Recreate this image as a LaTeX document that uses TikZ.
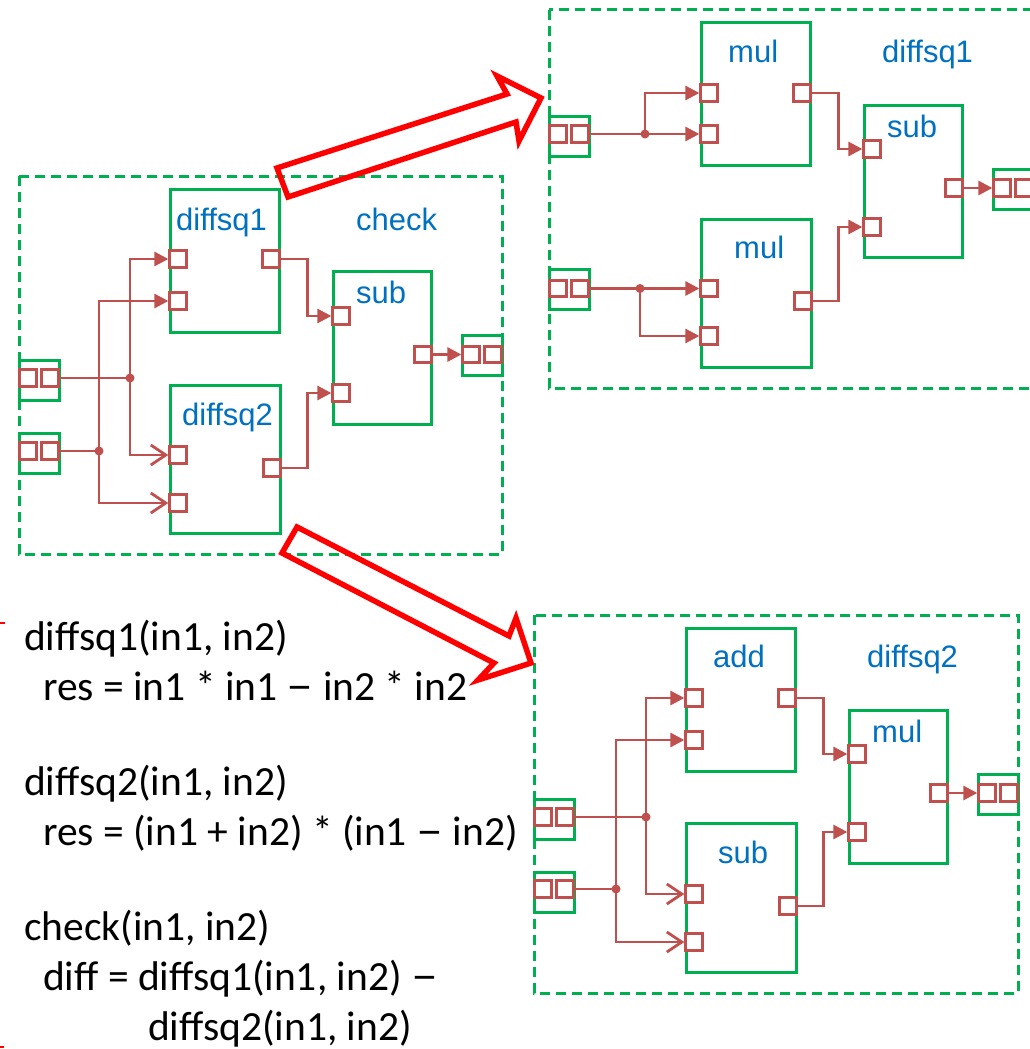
\documentclass[tikz,border=0pt]{standalone}
\usepackage{fontspec}
\setmainfont{Carlito}
\newfontfamily\arialfont{Liberation Sans}
\usetikzlibrary{arrows.meta}
\definecolor{wirered}{HTML}{C0504D}
\definecolor{boxgreen}{HTML}{00B050}
\definecolor{lblblue}{HTML}{0070C0}
\definecolor{bigred}{HTML}{FF0000}
\newcommand\mydash{\scalebox{1.3}[1.1]{–}}
\tikzset{
 blk/.style={draw=boxgreen, line width=3pt, rectangle, inner sep=0},
 port/.style={draw=wirered, line width=2.8pt, fill=white, rectangle, minimum size=16.5pt, inner sep=0},
 term/.style={draw=boxgreen, line width=3pt, rectangle, minimum size=40pt, inner sep=0},
 wire/.style={draw=wirered, line width=2.8pt},
 fa/.style={-{Triangle[length=14pt,width=14pt]}},
 fo/.style={-{Straight Barb[length=15pt,width=20pt]}},
 jdot/.style={circle, fill=wirered, minimum size=9pt, inner sep=0},
 frame/.style={draw=boxgreen, line width=3pt, dash pattern=on 10pt off 6pt},
 lbl/.style={font=\arialfont\fontsize{31}{31}\selectfont, text=lblblue, anchor=base west, inner sep=0},
 code/.style={font=\fontsize{41.5}{41.5}\selectfont, anchor=base west, inner sep=0},
 bigarrow/.style={draw=bigred, line width=5.5pt, line join=miter},
}
\newcommand\myterminal[4]{%
 \node[term] (#1) at (#2,#3) {};
 \node[port] (#1-a) at ({#2-11},#4) {};
 \node[port] (#1-b) at ({#2+11},#4) {};
}
\newcommand\myblock[5]{\node[blk, minimum width=#4pt, minimum height=#5pt] (#1) at (#2,#3) {};}
\newcommand\myport[3]{\node[port] (#1) at (#2,#3) {};}
\begin{document}
\begin{tikzpicture}[x=1pt,y=-1pt]
\useasboundingbox (0,0) rectangle (1030,1049);
\clip (0,0) rectangle (1030,1049);
\fill[white] (0,0) rectangle (1030,1049);

% ================= check =================
\draw[frame] (19,176) rectangle (502,554);
\myblock{c-d1}{224.5}{260.5}{109}{143}
\myblock{c-d2}{225}{459}{110}{148}
\myblock{c-sub}{382}{347.5}{98}{153}
\myport{c-d1-i1}{178}{259}
\myport{c-d1-i2}{178}{301}
\myport{c-d1-o}{271}{259}
\myport{c-d2-i1}{178}{455}
\myport{c-d2-i2}{178}{503}
\myport{c-d2-o}{272}{468}
\myport{c-sub-i1}{341}{316}
\myport{c-sub-i2}{341}{393}
\myport{c-sub-o}{423}{354.5}
\myterminal{c-ti1}{39}{380}{378}
\myterminal{c-ti2}{39}{453}{451}
\myterminal{c-to}{482}{355}{354.5}
\node[jdot] (c-j1) at (130,378) {};
\node[jdot] (c-j2) at (99,451) {};
\draw[wire] (c-ti1-b.east) -- (c-j1.center);
\draw[wire] (c-ti2-b.east) -- (c-j2.center);
\draw[wire,fa] (c-j1.center) |- (c-d1-i1);
\draw[wire,fo] (c-j1.center) |- (c-d2-i1);
\draw[wire,fa] (c-j2.center) |- (c-d1-i2);
\draw[wire,fo] (c-j2.center) |- (c-d2-i2);
\draw[wire,fa] (c-d1-o.east) -- ++(27,0) |- (c-sub-i1);
\draw[wire,fa] (c-d2-o.east) -- ++(26,0) |- (c-sub-i2);
\draw[wire,fa] (c-sub-o.east) -- (c-to-a);
\node[lbl] (c-lbl) at (356,230) {check};
\node[lbl] (c-d1-l) at (176,230) {diffsq1};
\node[lbl] (c-sub-l) at (356,303) {sub};
\node[lbl] (c-d2-l) at (182,425) {diffsq2};

% ================= diffsq1 (top right) =================
\draw[frame] (549,10) rectangle (1045,388);
\myblock{t-m1}{755.5}{94}{109}{142}
\myblock{t-m2}{756}{293}{110}{148}
\myblock{t-sub}{913}{181}{98}{152}
\myport{t-m1-i1}{709}{93}
\myport{t-m1-i2}{709}{134}
\myport{t-m1-o}{802}{93}
\myport{t-m2-i1}{709}{288.5}
\myport{t-m2-i2}{709}{336}
\myport{t-m2-o}{803}{301}
\myport{t-sub-i1}{872}{149}
\myport{t-sub-i2}{872}{227}
\myport{t-sub-o}{954}{188}
\myterminal{t-ti1}{569}{136}{134}
\myterminal{t-ti2}{569}{289}{288.5}
\myterminal{t-to}{1013}{189}{188}
\node[jdot] (t-j1) at (645,134) {};
\node[jdot] (t-j2) at (640,288.5) {};
\draw[wire,fa] (t-ti1-b.east) -- (t-m1-i2);
\draw[wire,fa] (t-j1.center) |- (t-m1-i1);
\draw[wire,fa] (t-ti2-b.east) -- (t-m2-i1);
\draw[wire,fa] (t-j2.center) |- (t-m2-i2);
\draw[wire,fa] (t-m1-o.east) -- ++(27,0) |- (t-sub-i1);
\draw[wire,fa] (t-m2-o.east) -- ++(26,0) |- (t-sub-i2);
\draw[wire,fa] (t-sub-o.east) -- (t-to-a);
\node[lbl] (t-lbl) at (882,63) {diffsq1};
\node[lbl] (t-m1-l) at (728,63) {mul};
\node[lbl] (t-sub-l) at (887,137) {sub};
\node[lbl] (t-m2-l) at (734,258) {mul};

% ================= diffsq2 (bottom right) =================
\draw[frame] (534,615) rectangle (1018,993);
\myblock{b-add}{740.5}{699.5}{109}{143}
\myblock{b-sub}{741}{897.5}{110}{149}
\myblock{b-mul}{898}{786.5}{98}{153}
\myport{b-add-i1}{694}{698}
\myport{b-add-i2}{694}{740}
\myport{b-add-o}{787}{698}
\myport{b-sub-i1}{694}{894}
\myport{b-sub-i2}{694}{942}
\myport{b-sub-o}{788}{906}
\myport{b-mul-i1}{857}{754}
\myport{b-mul-i2}{857}{832}
\myport{b-mul-o}{939}{793}
\myterminal{b-ti1}{554}{819}{817}
\myterminal{b-ti2}{554}{892}{889}
\myterminal{b-to}{998}{794}{793}
\node[jdot] (b-j1) at (646,817) {};
\node[jdot] (b-j2) at (616,889) {};
\draw[wire] (b-ti1-b.east) -- (b-j1.center);
\draw[wire] (b-ti2-b.east) -- (b-j2.center);
\draw[wire,fa] (b-j1.center) |- (b-add-i1);
\draw[wire,fo] (b-j1.center) |- (b-sub-i1);
\draw[wire,fa] (b-j2.center) |- (b-add-i2);
\draw[wire,fo] (b-j2.center) |- (b-sub-i2);
\draw[wire,fa] (b-add-o.east) -- ++(27,0) |- (b-mul-i1);
\draw[wire,fa] (b-sub-o.east) -- ++(26,0) |- (b-mul-i2);
\draw[wire,fa] (b-mul-o.east) -- (b-to-a);
\node[lbl] (b-lbl) at (867,667) {diffsq2};
\node[lbl] (b-add-l) at (713,667) {add};
\node[lbl] (b-mul-l) at (872,742) {mul};
\node[lbl] (b-sub-l) at (718,863) {sub};

% ================= big hollow arrows =================
\draw[bigarrow] (277,168) -- (507,94) -- (497,76) -- (541,98) -- (519,141) -- (516,122) -- (288,197) -- cycle;
\draw[bigarrow] (297,527) -- (509,636) -- (516,618) -- (531,663) -- (478,680) -- (494,663) -- (282,553) -- cycle;

% ================= code text =================
\node[code] (l1) at (24,650) {diffsq1(in1, in2)};
\node[code] (l2) at (43,700) {res = in1 * in1 \mydash{} in2 * in2};
\node[code] (l3) at (24,795) {diffsq2(in1, in2)};
\node[code] (l4) at (43,845) {res = (in1 + in2) * (in1 \mydash{} in2)};
\node[code] (l5) at (24,940) {check(in1, in2)};
\node[code] (l6) at (43,990) {diff = diffsq1(in1, in2) \mydash};
\node[code] (l7) at (148,1040) {diffsq2(in1, in2)};

% small red marks at the left edge
\draw[bigred, line width=2pt] (0,622.5) -- (5,622.5);
\draw[bigred, line width=2pt] (0,1046.5) -- (4,1046.5);
\end{tikzpicture}
\end{document}
